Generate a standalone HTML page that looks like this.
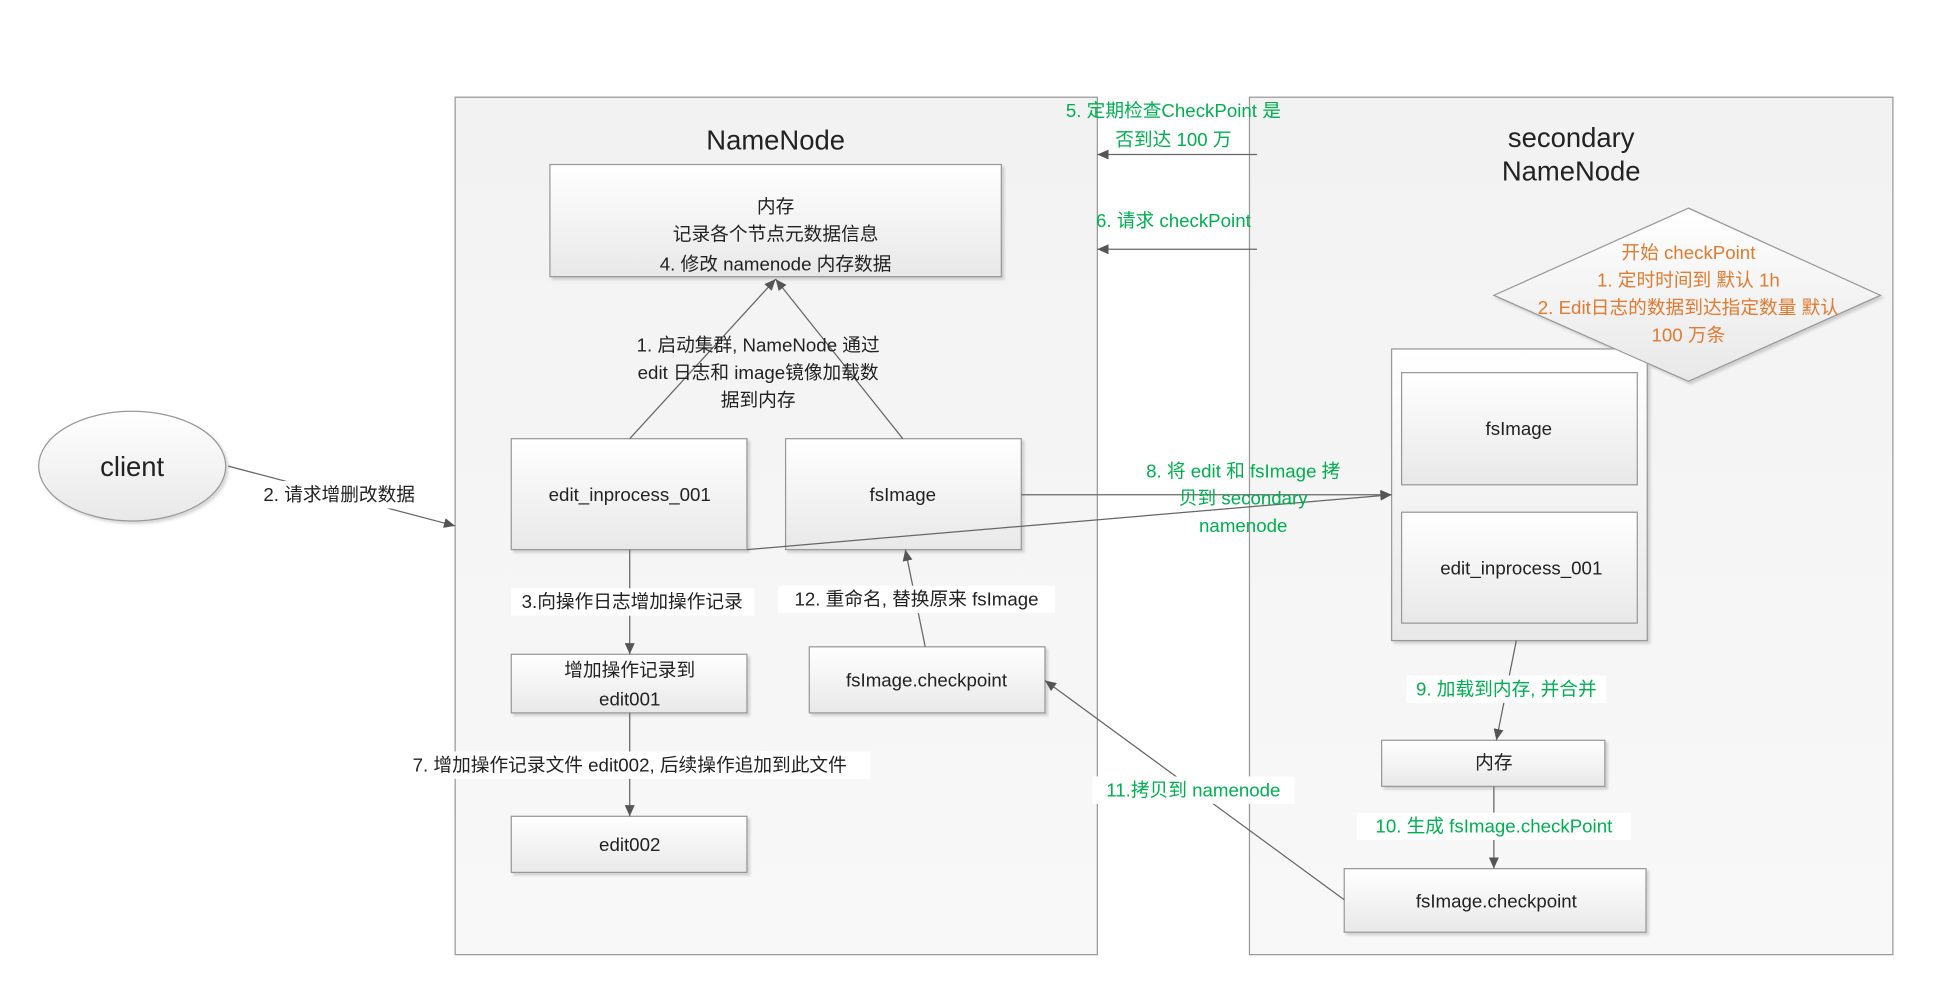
<!DOCTYPE html>
<html><head><meta charset="utf-8"><style>
html,body{margin:0;padding:0;background:#fff;width:1954px;height:1002px;overflow:hidden}
text{font-family:"Liberation Sans","Noto Sans CJK SC",sans-serif;font-size:15px;text-anchor:middle;fill:#222}
.g{fill:#00b050}.o{fill:#e07b30}
</style></head><body>
<svg width="1954" height="1002" viewBox="0 0 1567 804" preserveAspectRatio="none" xmlns="http://www.w3.org/2000/svg">
<defs>
<linearGradient id="bg" x1="0" y1="0" x2="0" y2="1"><stop offset="0" stop-color="#ffffff"/><stop offset="1" stop-color="#e8e8e8"/></linearGradient>
<linearGradient id="cg" x1="0" y1="0" x2="0" y2="1"><stop offset="0" stop-color="#f2f2f2"/><stop offset="1" stop-color="#f8f8f8"/></linearGradient>
<marker id="a" markerWidth="10" markerHeight="10" refX="9" refY="5" orient="auto" markerUnits="userSpaceOnUse"><path d="M0,1 L9,5 L0,9 z" fill="#555"/></marker>
</defs>
<g stroke="#999" stroke-width="1">
<rect x="365" y="78" width="515" height="688" fill="url(#cg)"/>
<rect x="1002" y="78" width="516" height="688" fill="url(#cg)"/>
</g>
<text x="622" y="120" style="font-size:22px">NameNode</text>
<text x="1260" y="118" style="font-size:22px">secondary</text>
<text x="1260" y="145" style="font-size:22px">NameNode</text>

<g stroke="#999" fill="url(#bg)" style="filter:drop-shadow(2px 2px 1px rgba(0,0,0,0.15))">
<rect x="441" y="132" width="362" height="90"/>
<rect x="410" y="352" width="189" height="89"/>
<rect x="630" y="352" width="189" height="89"/>
<rect x="410" y="525" width="189" height="47"/>
<rect x="410" y="655" width="189" height="45"/>
<rect x="649" y="519" width="189" height="53"/>
<rect x="1116" y="280" width="205" height="234"/>
<rect x="1124" y="299" width="189" height="90"/>
<rect x="1124" y="411" width="189" height="89"/>
<rect x="1108" y="594" width="179" height="37"/>
<rect x="1078" y="697" width="242" height="51"/>
<ellipse cx="106" cy="374" rx="75" ry="44"/>
<polygon points="1354,167 1508,237 1354,306 1198,237"/>
</g>

<g stroke="#666" stroke-width="1" fill="none" marker-end="url(#a)">
<line x1="505" y1="352" x2="622" y2="224"/>
<line x1="724" y1="352" x2="622" y2="224"/>
<line x1="183" y1="374" x2="365" y2="422"/>
<line x1="505" y1="441" x2="505" y2="525"/>
<line x1="505" y1="572" x2="505" y2="655"/>
<line x1="742" y1="519" x2="726" y2="441"/>
<line x1="819" y1="397" x2="1116" y2="397"/>
<line x1="599" y1="441" x2="1116" y2="397"/>
<line x1="1008" y1="124" x2="880" y2="124"/>
<line x1="1008" y1="200" x2="880" y2="200"/>
<line x1="1216" y1="514" x2="1200" y2="594"/>
<line x1="1198" y1="631" x2="1198" y2="697"/>
<line x1="1078" y1="722" x2="838" y2="546"/>
</g>

<g fill="#fff">
<rect x="200" y="386" width="144" height="22"/>
<rect x="410" y="472" width="195" height="22"/>
<rect x="624" y="470" width="222" height="22"/>
<rect x="310" y="603" width="388" height="22"/>
<rect x="1128" y="542" width="160" height="22"/>
<rect x="1088" y="652" width="220" height="22"/>
<rect x="876" y="623" width="162" height="22"/>
</g>

<text x="106" y="382" style="font-size:22px">client</text>
<text x="622" y="171">内存</text>
<text x="622" y="193">记录各个节点元数据信息</text>
<text x="622" y="217">4. 修改 namenode 内存数据</text>
<text x="608" y="282">1. 启动集群, NameNode 通过</text>
<text x="608" y="304">edit 日志和 image镜像加载数</text>
<text x="608" y="326">据到内存</text>
<text x="505" y="402">edit_inprocess_001</text>
<text x="724" y="402">fsImage</text>
<text x="272" y="402">2. 请求增删改数据</text>
<text x="507" y="488">3.向操作日志增加操作记录</text>
<text x="735" y="486">12. 重命名, 替换原来 fsImage</text>
<text x="505" y="543">增加操作记录到</text>
<text x="505" y="566">edit001</text>
<text x="743" y="551">fsImage.checkpoint</text>
<text x="505" y="619">7. 增加操作记录文件 edit002, 后续操作追加到此文件</text>
<text x="505" y="683">edit002</text>
<text class="g" x="941" y="94">5. 定期检查CheckPoint 是</text>
<text class="g" x="941" y="117">否到达 100 万</text>
<text class="g" x="941" y="182">6. 请求 checkPoint</text>
<text class="g" x="997" y="383">8. 将 edit 和 fsImage 拷</text>
<text class="g" x="997" y="405">贝到 secondary</text>
<text class="g" x="997" y="427">namenode</text>
<text class="o" x="1354" y="208">开始 checkPoint</text>
<text class="o" x="1354" y="230">1. 定时时间到 默认 1h</text>
<text class="o" x="1354" y="252">2. Edit日志的数据到达指定数量 默认</text>
<text class="o" x="1354" y="274">100 万条</text>
<text x="1218" y="349">fsImage</text>
<text x="1220" y="461">edit_inprocess_001</text>
<text class="g" x="1208" y="558">9. 加载到内存, 并合并</text>
<text x="1198" y="617">内存</text>
<text class="g" x="1198" y="668">10. 生成 fsImage.checkPoint</text>
<text x="1200" y="728">fsImage.checkpoint</text>
<text class="g" x="957" y="639">11.拷贝到 namenode</text>
</svg>
</body></html>
